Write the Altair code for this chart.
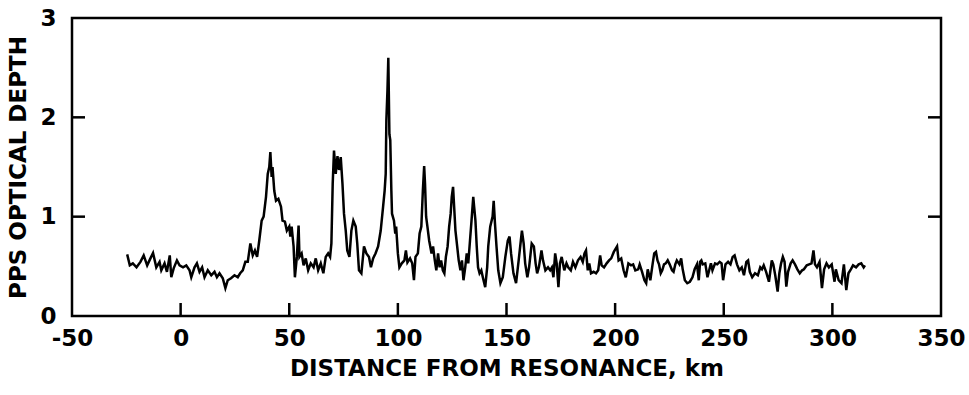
import altair as alt
import pandas as pd

KM = [
-24.6,-23.4,-22.0,-20.3,-18.5,-17.0,-15.4,-13.9,-12.7,-11.2,-9.7,-8.9,-7.4,-6.3,-5.0,-4.3,-3.2,-1.7,-0.5,1.1,
2.6,4.1,4.9,6.4,7.5,8.7,9.9,11.0,12.5,14.1,15.6,16.7,17.9,19.4,20.6,21.7,23.2,24.8,26.3,27.4,28.6,29.8,
30.9,32.1,33.2,34.2,35.2,36.2,37.3,38.2,39.3,40.1,40.8,41.3,41.9,42.3,43.1,43.9,45.0,46.2,46.9,48.0,48.9,
50.0,50.5,51.1,52.0,52.6,53.5,54.3,54.7,55.7,56.6,57.6,58.7,59.9,61.2,62.2,63.3,64.5,65.7,66.8,67.9,68.8,
69.4,70.0,70.6,71.4,72.2,72.9,73.7,74.5,75.2,76.0,76.7,77.7,78.6,79.5,80.6,81.3,82.1,83.2,84.4,85.5,86.7,
87.6,88.6,89.7,90.9,92.1,93.2,93.9,94.4,94.7,95.2,95.6,96.1,96.5,97.0,97.3,98.2,98.8,99.2,100.0,100.7,
101.8,103.0,103.7,104.4,105.6,106.6,107.4,108.1,109.2,110.0,110.8,111.5,112.1,112.5,113.0,113.6,114.4,
115.5,116.2,117.0,117.7,118.5,119.2,119.9,120.7,121.4,122.1,122.9,123.6,124.3,124.8,125.4,125.9,126.5,
127.3,128.0,128.8,129.5,130.2,131.0,131.7,132.4,133.2,133.9,134.7,135.1,135.7,136.3,136.9,137.6,138.4,
139.1,140.2,141.1,141.6,142.5,
143.6,144.1,144.7,145.4,146.2,147.2,148.3,149.5,150.6,151.4,152.1,153.2,154.4,155.6,156.6,157.1,157.9,
158.6,159.6,160.4,161.6,162.6,163.4,164.1,164.9,166.1,166.8,167.9,169.1,170.1,170.9,171.6,172.4,173.1,
173.9,174.6,175.4,176.6,177.6,178.4,179.6,180.6,181.7,182.9,184.1,185.1,185.9,186.6,187.4,188.1,188.9,
190.1,191.2,192.2,193.1,193.8,194.9,196.1,197.2,198.2,199.4,
200.9,201.6,202.8,203.9,204.9,206.1,207.3,208.3,209.3,210.6,211.3,212.4,213.5,214.3,215.0,216.2,217.3,
218.0,218.8,219.5,220.2,221.0,221.7,222.5,223.3,224.2,225.1,226.2,226.9,227.7,228.4,229.6,230.4,231.1,
232.1,233.2,234.4,235.6,236.6,237.7,238.5,239.1,239.7,240.3,241.5,242.5,243.3,244.1,244.8,246.0,247.0,
248.1,249.0,249.7,250.8,252.0,253.1,254.1,255.0,
256.1,257.2,258.3,259.3,260.4,261.2,262.0,263.1,264.4,265.7,266.8,267.6,268.4,269.5,270.8,272.1,272.8,
273.7,274.8,275.6,276.4,277.2,278.0,278.8,279.6,280.8,281.7,282.8,283.9,285.0,286.1,286.9,288.2,289.3,
290.4,291.3,292.0,292.9,294.1,295.2,296.2,297.3,298.4,299.7,301.0,301.6,302.9,304.2,305.3,306.4,307.4,
308.5,309.5,310.9,312.1,313.3,314.4,315.0,
]

DEPTH = [
.62,.51,.53,.49,.545,.61,.51,.58,.635,.49,.545,.46,.53,.445,.61,.39,.48,.56,.51,.49,
.51,.46,.39,.49,.53,.445,.49,.39,.46,.41,.445,.39,.43,.38,.28,.36,.38,.41,.39,.43,.46,.545,
.545,.73,.61,.66,.595,.76,.96,1.0,1.2,1.43,1.50,1.65,1.40,1.50,1.26,1.16,1.18,1.10,.96,.95,.86,
.90,.80,.90,.70,.39,.595,.91,.595,.63,.51,.58,.46,.53,.49,.58,.46,.53,.43,.595,.63,.595,
.73,1.33,1.665,1.43,1.61,1.47,1.60,1.33,1.03,.86,.66,.595,.86,.96,.90,.73,.46,.43,.70,.63,.595,
.49,.58,.63,.70,.86,1.10,1.26,1.43,1.97,2.27,2.60,1.83,1.77,1.26,1.03,.96,.83,.90,.63,.49,
.53,.56,.66,.54,.58,.53,.36,.595,.63,.83,.90,1.26,1.51,1.33,1.00,.90,.76,
.63,.70,.56,.46,.63,.49,.56,.46,.43,.595,.70,.90,1.03,1.20,1.30,1.10,.86,
.70,.56,.46,.56,.36,.49,.63,.53,.76,.96,1.20,1.10,.96,.70,.49,.43,.46,
.39,.29,.49,.70,.90,
1.00,1.16,.93,.70,.46,.33,.39,.60,.76,.80,.63,.43,.33,.56,.76,.86,.73,
.53,.39,.49,.73,.70,.53,.43,.49,.66,.56,.46,.49,.46,.49,.39,.63,.53,
.29,.53,.595,.46,.53,.49,.46,.545,.49,.56,.595,.545,.63,.66,.46,.53,.43,
.445,.43,.46,.61,.51,.49,.53,.56,.58,.645,
.70,.56,.58,.46,.39,.53,.51,.52,.46,.47,.52,.445,.36,.33,.47,.36,.53,
.63,.645,.56,.52,.43,.46,.52,.53,.56,.52,.46,.445,.52,.56,.52,.58,.47,
.36,.33,.345,.39,.47,.52,.36,.545,.56,.52,.53,.39,.46,.53,.46,.53,.52,
.545,.53,.36,.52,.545,.52,.595,.61,
.52,.46,.49,.41,.545,.56,.445,.39,.43,.41,.49,.47,.51,.445,.345,.56,.52,
.41,.245,.43,.53,.595,.545,.295,.445,.53,.56,.52,.47,.43,.46,.47,.51,.52,
.53,.66,.52,.49,.545,.28,.47,.53,.49,.52,.345,.47,.36,.33,.52,.26,.43,
.47,.51,.49,.52,.53,.49,.51,
]

X_TICKS = [-50, 0, 50, 100, 150, 200, 250, 300, 350]
Y_TICKS = [0, 1, 2, 3]
X_INNER_TICKS = [0, 50, 100, 150, 200, 250, 300]
Y_INNER_TICKS = [1, 2]

W, H = 869, 298
FONT = "DejaVu Sans"

df = pd.DataFrame({"km": KM, "depth": DEPTH})
xt = pd.DataFrame({"km": X_INNER_TICKS})
yt = pd.DataFrame({"depth": Y_INNER_TICKS})

xscale = alt.Scale(domain=[-50, 350], nice=False, zero=False)
yscale = alt.Scale(domain=[0, 3], nice=False)

line = alt.Chart(df).mark_line(color="black", strokeWidth=2.5, strokeJoin="miter").encode(
    x=alt.X("km:Q", scale=xscale,
            axis=alt.Axis(values=X_TICKS, title="DISTANCE FROM RESONANCE, km",
                          labelExpr="'' + datum.value",
                          labelPadding=11, titlePadding=7)),
    y=alt.Y("depth:Q", scale=yscale,
            axis=alt.Axis(values=Y_TICKS, title="PPS OPTICAL DEPTH",
                          labelExpr="'' + datum.value",
                          labelPadding=16, titlePadding=9)),
)

bottom_ticks = alt.Chart(xt).mark_rule(color="black", strokeWidth=2.5).encode(
    x=alt.X("km:Q", scale=xscale),
    y=alt.value(H), y2=alt.value(H - 13),
)
left_ticks = alt.Chart(yt).mark_rule(color="black", strokeWidth=2.5).encode(
    y=alt.Y("depth:Q", scale=yscale),
    x=alt.value(0), x2=alt.value(13),
)
right_ticks = alt.Chart(yt).mark_rule(color="black", strokeWidth=2.5).encode(
    y=alt.Y("depth:Q", scale=yscale),
    x=alt.value(W - 13), x2=alt.value(W),
)

chart = alt.layer(line, bottom_ticks, left_ticks, right_ticks).properties(
    width=W, height=H,
    autosize=alt.AutoSizeParams(type="none"),
    padding={"left": 72, "top": 18, "right": 28, "bottom": 79},
    background="white",
).configure_view(
    stroke="black", strokeWidth=2.5, fill="white"
).configure_axis(
    ticks=False, domain=False, grid=False, labelFlush=False, labelOverlap=False,
    labelFont=FONT, labelFontSize=23, labelFontWeight="bold", labelColor="black",
    titleFont=FONT, titleFontSize=23, titleFontWeight="bold", titleColor="black",
)

chart.save("out.html", embed_options={"renderer": "svg", "actions": False})
